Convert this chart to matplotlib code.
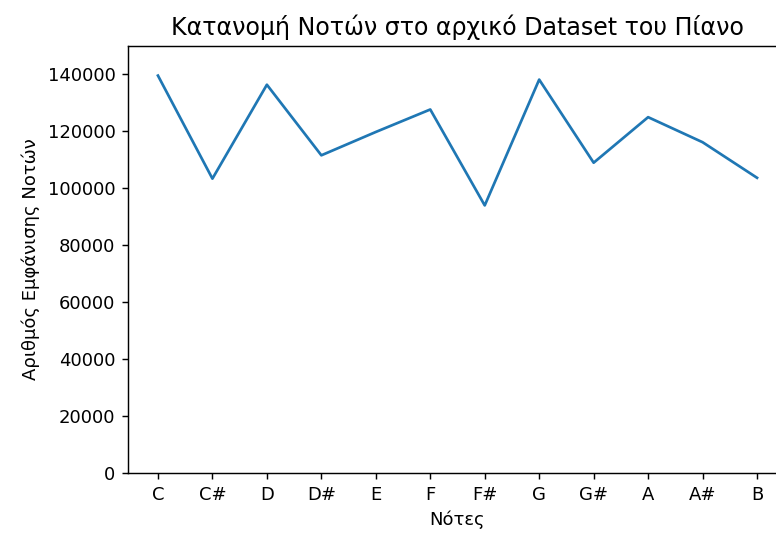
import matplotlib
matplotlib.use('Agg')
import matplotlib.pyplot as plt

# Νότες και πλήθος εμφανίσεων
notes = ['C', 'C#', 'D', 'D#', 'E', 'F', 'F#', 'G', 'G#', 'A', 'A#', 'B']
counts = [139600, 103400, 136400, 111600, 119800, 127700,
          94000, 138200, 109000, 125000, 116200, 103700]

dpi = 129.6
fig = plt.figure(figsize=(776 / dpi, 533 / dpi), dpi=dpi)
ax = fig.add_axes([128 / 776, 60 / 533, 659 / 776, 427 / 533])
ax.plot(notes, counts)
ax.set_ylim(0, 150000)
ax.set_title('Κατανομή Νοτών στο αρχικό Dataset του Πίανο', fontsize=13.2)
ax.set_xlabel('Νότες')
ax.set_ylabel('Αριθμός Εμφάνισης Νοτών')
fig.savefig('out.png', dpi=dpi)
